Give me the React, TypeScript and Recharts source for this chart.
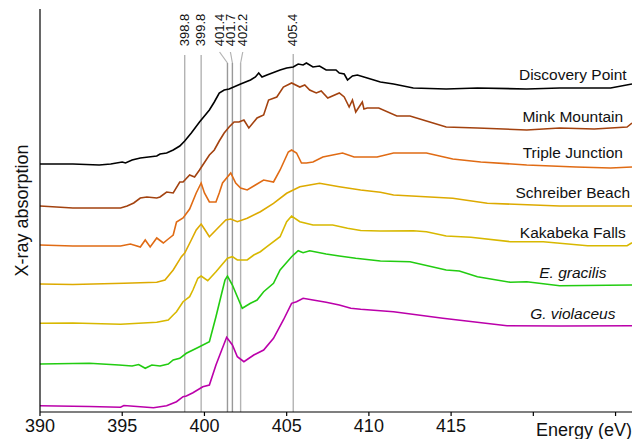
import React from 'react';
import { LineChart, Line, XAxis, YAxis, ReferenceLine, ReferenceDot } from 'recharts';

// [energy (eV), X-ray absorption (offset, a.u.)]
const discoveryPoint: [number, number][] = [[390,2.48],[392,2.48],[393.6,2.47],[394.3,2.48],[395,2.5],[395.2,2.49],[395.6,2.52],[396.1,2.54],[396.6,2.55],[397.1,2.56],[397.3,2.58],[397.7,2.59],[398.1,2.62],[398.5,2.66],[398.8,2.71],[399.2,2.79],[399.7,2.9],[400.3,3.02],[400.6,3.1],[400.9,3.19],[401.2,3.22],[401.5,3.23],[402.2,3.28],[402.8,3.32],[403.1,3.35],[403.3,3.39],[403.5,3.35],[403.8,3.37],[404.6,3.42],[405,3.44],[405.4,3.45],[405.7,3.48],[406,3.47],[406.2,3.49],[406.6,3.45],[407,3.46],[407.4,3.42],[408,3.42],[408.2,3.39],[408.5,3.38],[408.7,3.32],[409,3.36],[409.3,3.37],[409.9,3.34],[410.7,3.3],[411.5,3.28],[412.7,3.24],[414.7,3.23],[416.6,3.24],[419.6,3.23],[421.6,3.24],[424.7,3.24],[426,3.28]];
const minkMountain: [number, number][] = [[390,2.06],[392,2.04],[394.9,2.04],[395.3,2.06],[395.7,2.09],[396.1,2.14],[396.5,2.15],[397.1,2.14],[397.3,2.15],[397.7,2.2],[398.1,2.19],[398.5,2.3],[398.7,2.3],[399.1,2.37],[399.4,2.35],[399.7,2.42],[400.3,2.57],[400.6,2.62],[400.9,2.71],[401.2,2.79],[401.5,2.85],[401.8,2.9],[402.1,2.9],[402.4,2.92],[402.7,2.84],[403.2,2.94],[403.6,2.97],[403.9,3.12],[404.4,3.15],[404.8,3.25],[405.3,3.29],[405.8,3.25],[406.1,3.27],[406.4,3.22],[406.8,3.19],[407.1,3.21],[407.5,3.14],[408.2,3.19],[408.5,3.15],[408.8,3.05],[409,3.12],[409.2,3.0],[409.6,3.1],[409.7,3.03],[409.9,3.04],[410.6,3.04],[411.7,2.96],[412.5,2.96],[413.5,2.91],[414.7,2.85],[416.6,2.84],[419.6,2.82],[421.6,2.84],[423.7,2.83],[425.7,2.85],[426,2.89]];
const tripleJunction: [number, number][] = [[390,1.67],[392,1.66],[394.9,1.66],[395.5,1.68],[396.1,1.65],[396.4,1.72],[396.7,1.65],[397.1,1.74],[397.5,1.69],[397.8,1.73],[398.1,1.77],[398.3,1.9],[398.7,1.94],[399.1,2.03],[399.5,2.19],[399.8,2.29],[400,2.19],[400.3,2.1],[400.7,2.1],[400.9,2.19],[401.1,2.29],[401.6,2.39],[401.9,2.29],[402.2,2.24],[402.6,2.22],[403.1,2.27],[403.6,2.32],[404.2,2.3],[404.6,2.42],[405.1,2.6],[405.3,2.62],[405.6,2.59],[405.9,2.49],[406.2,2.49],[406.6,2.5],[407.2,2.55],[407.8,2.57],[408.4,2.59],[409.1,2.55],[409.6,2.55],[410.5,2.55],[411.5,2.59],[413.5,2.59],[415.1,2.53],[416.8,2.5],[419.6,2.47],[422.6,2.45],[424.7,2.44],[426,2.45]];
const schreiberBeach: [number, number][] = [[390,1.28],[392,1.275],[395.1,1.287],[397.1,1.297],[397.6,1.32],[398.1,1.42],[398.6,1.553],[398.8,1.59],[399.2,1.72],[399.5,1.82],[399.8,1.88],[400,1.83],[400.3,1.753],[400.7,1.82],[401.3,1.92],[401.6,1.93],[402,1.903],[402.6,1.937],[403.4,2.003],[404.2,2.087],[405,2.187],[405.8,2.253],[407,2.287],[408.2,2.253],[409.5,2.22],[410.7,2.197],[411.5,2.17],[415.1,2.137],[417.2,2.087],[421.6,2.06],[426,2.06]];
const kakabekaFalls: [number, number][] = [[390,0.887],[392,0.89],[394.9,0.877],[397.1,0.897],[397.8,0.92],[398.1,0.97],[398.3,1.003],[398.7,1.103],[399.1,1.153],[399.3,1.22],[399.6,1.337],[399.8,1.36],[400.2,1.313],[400.7,1.403],[401.4,1.537],[401.7,1.553],[402,1.52],[402.6,1.52],[403,1.57],[403.4,1.603],[403.8,1.653],[404.6,1.753],[405,1.903],[405.3,1.96],[405.8,1.903],[406.6,1.87],[407.8,1.87],[408.7,1.837],[409.5,1.815],[410.7,1.81],[412.7,1.813],[413.5,1.803],[414.7,1.76],[416.2,1.747],[418.6,1.703],[420.6,1.703],[423.3,1.663],[425.7,1.663],[426,1.693]];
const eGracilis: [number, number][] = [[390,0.48],[393,0.487],[394.8,0.47],[395.6,0.46],[396,0.475],[396.4,0.437],[396.8,0.47],[397.3,0.46],[397.8,0.48],[398.1,0.52],[398.5,0.537],[398.9,0.587],[399.7,0.653],[400.3,0.703],[400.7,0.953],[401.05,1.187],[401.25,1.32],[401.4,1.36],[401.7,1.27],[402,1.153],[402.3,1.037],[402.8,1.087],[403.2,1.12],[403.6,1.203],[404.2,1.287],[404.6,1.42],[405.3,1.553],[405.7,1.613],[406,1.593],[406.4,1.613],[407.4,1.58],[408.2,1.56],[409.2,1.537],[410.7,1.51],[412.5,1.503],[414.7,1.42],[415.5,1.41],[416.6,1.353],[418.6,1.297],[419.6,1.303],[421.6,1.263],[426,1.27]];
const gViolaceus: [number, number][] = [[390,0.063],[393,0.055],[394.9,0.047],[395.1,0.065],[396.1,0.053],[396.9,0.043],[397.7,0.063],[398.3,0.103],[398.7,0.153],[398.9,0.16],[399.3,0.193],[399.9,0.253],[400.3,0.27],[400.7,0.47],[401.05,0.62],[401.35,0.747],[401.7,0.67],[402,0.553],[402.4,0.503],[403,0.57],[403.6,0.62],[404.2,0.737],[404.8,0.92],[405.3,1.087],[405.6,1.103],[406,1.137],[406.6,1.12],[407.4,1.097],[408.2,1.07],[408.9,1.037],[409.5,1.027],[410.7,1.013],[411.5,1.003],[414.5,0.937],[418.4,0.863],[421.6,0.86],[426,0.863]];

const seriesNames = ['Discovery Point', 'Mink Mountain', 'Triple Junction', 'Schreiber Beach', 'Kakabeka Falls', 'E. gracilis', 'G. violaceus'];
const seriesColors = ['#000000', '#A3420F', '#E06B14', '#DDAA00', '#D8B800', '#22CC11', '#BB00AA'];
const seriesItalic = [false, false, false, false, false, true, true];
const seriesData = [discoveryPoint, minkMountain, tripleJunction, schreiberBeach, kakabekaFalls, eGracilis, gViolaceus];
// label anchor position (energy, absorption) for each series name
const labelEnergy = 422.4;
const labelLevels = [3.38, 2.96, 2.6, 2.195, 1.8, 1.395, 0.985];

// marked transition energies (eV), label anchor energies, leader top/bottom
const markEnergies = [398.8, 399.8, 401.4, 401.7, 402.2, 405.4];
const markLabels = ['398.8', '399.8', '401.4', '401.7', '402.2', '405.4'];
const markLabelEnergies = [398.76, 399.74, 400.92, 401.58, 402.33, 405.37];
const markLineTop = [3.57, 3.57, 3.49, 3.49, 3.49, 3.58];
const markLeaderTop = 3.6;
const markLabelLevel = 3.82;

const xTicks = [390, 395, 400, 405, 410, 415, 420, 425];

const FONT = '"Liberation Sans", Arial, Helvetica, sans-serif';

export default function App() {
  return (
    <div style={{ width: 635, height: 439, fontFamily: FONT }}>
      <style>{'body{margin:0}'}</style>
      <LineChart width={635} height={439} margin={{ top: 9, right: 3, bottom: 0, left: 0 }}>
        <XAxis
          type="number"
          dataKey="e"
          domain={[390, 426]}
          ticks={xTicks}
          allowDataOverflow
          tickSize={4}
          tickMargin={3}
          tick={{ fontSize: 18, fill: '#111', fontFamily: FONT }}
          tickFormatter={(v: number) => (v >= 420 ? '' : String(v))}
          stroke="#000"
          axisLine={{ stroke: '#000', strokeWidth: 1.2 }}
          tickLine={{ stroke: '#000', strokeWidth: 1.2 }}
          height={27}
          label={{ value: 'Energy (eV)', position: 'insideBottomRight', offset: 0, fontSize: 18, fill: '#111', fontFamily: FONT, dy: -3 }}
        />
        <YAxis
          type="number"
          domain={[0, 4.03]}
          allowDataOverflow
          tick={false}
          tickLine={false}
          width={40}
          axisLine={{ stroke: '#000', strokeWidth: 1.2 }}
          label={{ value: 'X-ray absorption', angle: -90, position: 'center', fontSize: 18, fill: '#111', fontFamily: FONT, dx: 2 }}
        />
        {markEnergies.map((e, i) => (
          <ReferenceLine
            key={'v' + i}
            segment={[{ x: e, y: markLineTop[i] }, { x: e, y: 0 }]}
            stroke={i === 2 || i === 3 ? '#999' : '#b3b3b3'}
            strokeWidth={1.4}
          />
        ))}
        {markEnergies.map((e, i) =>
          markLineTop[i] < 3.5 ? (
            <ReferenceLine
              key={'l' + i}
              segment={[{ x: markLabelEnergies[i], y: markLeaderTop }, { x: e, y: markLineTop[i] }]}
              stroke="#b3b3b3"
              strokeWidth={1.2}
            />
          ) : null
        )}
        {seriesData.map((d, i) => (
          <Line
            key={seriesNames[i]}
            data={d.map(([e, v]) => ({ e, v }))}
            dataKey="v"
            type="linear"
            stroke={seriesColors[i]}
            strokeWidth={1.6}
            dot={false}
            activeDot={false}
            isAnimationActive={false}
          />
        ))}
        {markLabels.map((t, i) => (
          <ReferenceDot
            key={'ml' + i}
            x={markLabelEnergies[i]}
            y={markLabelLevel}
            r={0}
            fill="none"
            stroke="none"
            label={{ value: t, position: 'center', angle: -90, fontSize: 13, fill: '#111', fontFamily: FONT }}
          />
        ))}
        {seriesNames.map((n, i) => (
          <ReferenceDot
            key={'sl' + i}
            x={labelEnergy}
            y={labelLevels[i]}
            r={0}
            fill="none"
            stroke="none"
            label={{ value: n, position: 'center', fontSize: 15.5, fill: '#111', fontFamily: FONT, fontStyle: seriesItalic[i] ? 'italic' : 'normal' }}
          />
        ))}
      </LineChart>
    </div>
  );
}
